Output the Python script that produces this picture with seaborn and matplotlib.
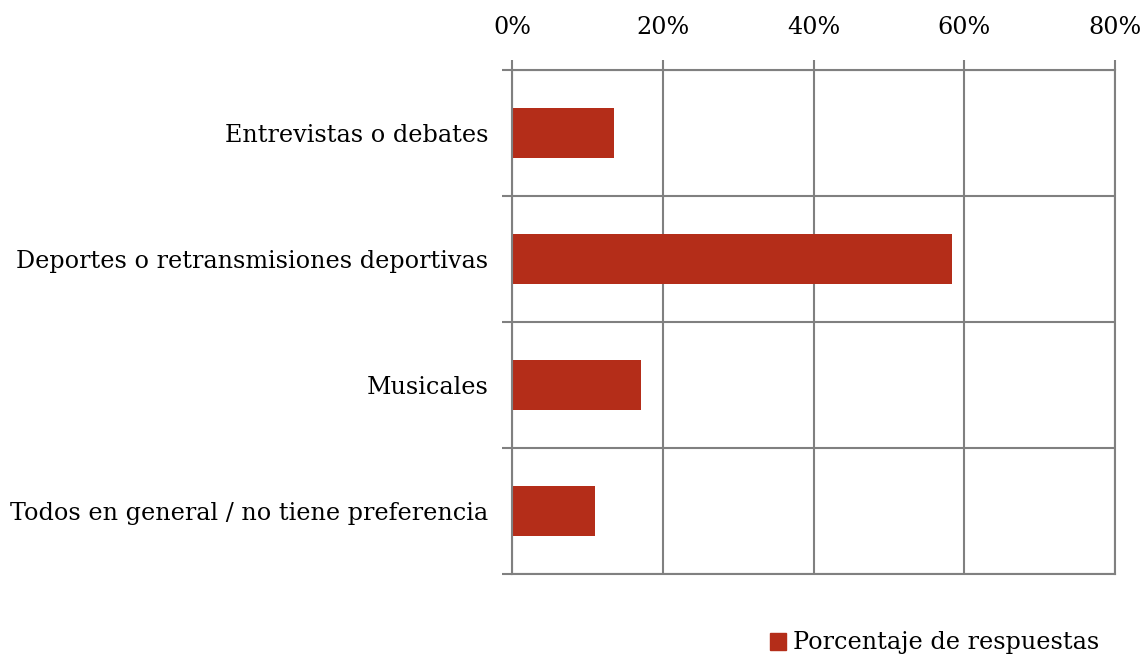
"""
Bar chart: preferred programme types (percentage of answers).
"""

import pandas as pd
import matplotlib.pyplot as plt
from matplotlib.ticker import PercentFormatter, FixedLocator
import seaborn as sns

categories = [
    "Entrevistas o debates",
    "Deportes o retransmisiones deportivas",
    "Musicales",
    "Todos en general / no tiene preferencia",
]
values = [13.5, 58.4, 17.1, 11.0]
series_name = "Porcentaje de respuestas"
x_ticks = [0, 20, 40, 60, 80]

bar_color = "#B42D19"
line_color = "#808080"
font_size = 17.2

sns.set_theme(style="white")
plt.rcParams["font.family"] = ["DejaVu Serif"]
plt.rcParams["text.color"] = "black"
plt.rcParams["xtick.labelcolor"] = "black"
plt.rcParams["ytick.labelcolor"] = "black"

df = pd.DataFrame({
    "Categoria": categories,
    "Valor": values,
    "Serie": [series_name] * len(categories),
})

fig = plt.figure(figsize=(11.46, 6.59), dpi=100)
ax = fig.add_axes([0.4468, 0.129, 0.5262, 0.7648])

sns.barplot(
    data=df,
    x="Valor",
    y="Categoria",
    hue="Serie",
    palette=[bar_color],
    orient="h",
    width=0.4,
    saturation=1,
    linewidth=0,
    legend=True,
    ax=ax,
)

ax.set_xlim(0, 80)
ax.set_ylim(len(categories) - 0.5, -0.5)
ax.xaxis.set_major_locator(FixedLocator(x_ticks))
ax.xaxis.set_major_formatter(PercentFormatter(decimals=0))
ax.xaxis.tick_top()
ax.set_xlabel("")
ax.set_ylabel("")

# category boundaries as horizontal grid lines
ax.yaxis.set_minor_locator(FixedLocator([i - 0.5 for i in range(len(categories) + 1)]))
ax.grid(axis="x", which="major", color=line_color, linewidth=1.5)
ax.grid(axis="y", which="minor", color=line_color, linewidth=1.5)
ax.set_axisbelow(True)

ax.tick_params(axis="x", which="major", direction="out", length=7, width=1.5,
               color=line_color, labelsize=font_size, pad=15, top=True, bottom=False)
ax.tick_params(axis="y", which="major", length=0, labelsize=font_size, pad=17)
ax.tick_params(axis="y", which="minor", direction="out", length=7, width=1.5,
               color=line_color, left=True)

for spine in ax.spines.values():
    spine.set_color(line_color)
    spine.set_linewidth(1.5)

ax.get_legend().remove()
handles = [plt.Rectangle((0, 0), 1, 1, color=bar_color)]
fig.legend(
    handles, [series_name],
    loc="center left",
    bbox_to_anchor=(748 / 1146, 1 - 643 / 659),
    frameon=False,
    fontsize=font_size,
    handlelength=0.7,
    handleheight=0.7,
    handletextpad=0.3,
)

fig.savefig("out.png", dpi=100)
